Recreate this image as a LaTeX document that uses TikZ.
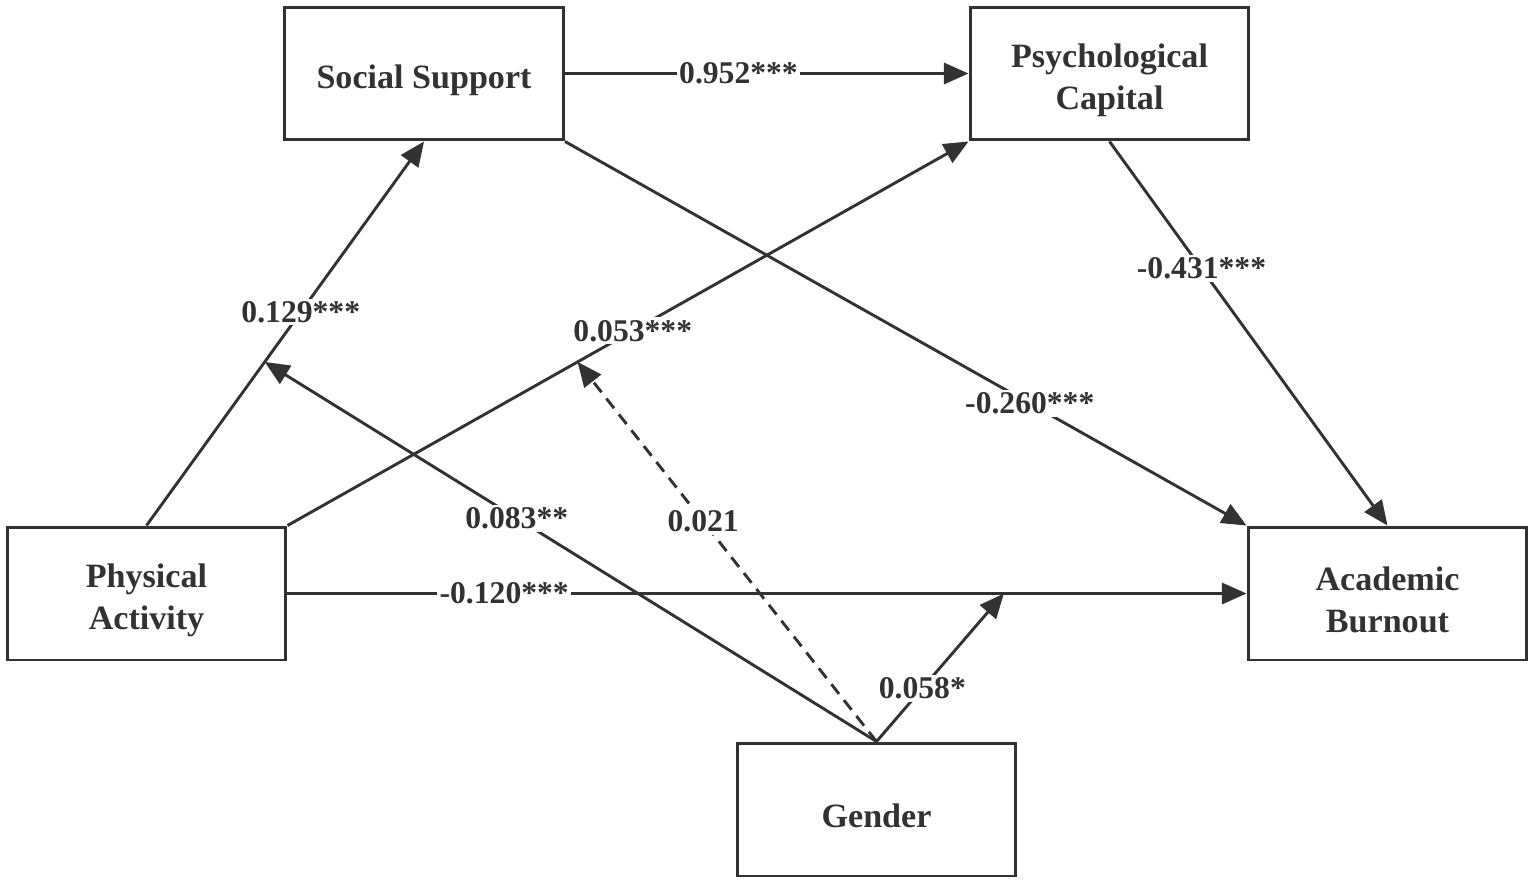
\documentclass[tikz,border=0pt]{standalone}
\usepackage{fontspec}
\setmainfont{Liberation Serif}
\usetikzlibrary{arrows.meta,calc}
\definecolor{ink}{RGB}{50,50,50}
\begin{document}
\begin{tikzpicture}[x=0.02cm,y=-0.02cm,
  box/.style={draw=ink,line width=1.7pt,minimum width=5.58cm,minimum height=2.66cm,
    align=center,text=ink,text height=21pt,font=\fontsize{19.4}{24}\selectfont\bfseries},
  boxtwo/.style={box,text height=45pt},
  conn/.style={draw=ink,line width=1.65pt,-{Triangle[length=14pt,width=12pt]}},
  lab/.style={fill=white,text=ink,inner sep=1.5pt,font=\fontsize{18}{22}\selectfont\bfseries}]
\useasboundingbox (0,0) rectangle (1535,886);
\node[box] (SS) at (424,73.5) {Social Support};
\node[boxtwo] (PC) at (1109.5,73.5) {Psychological\\Capital};
\node[boxtwo] (PA) at (146.5,593.5) {Physical\\Activity};
\node[boxtwo] (AB) at (1387.5,593.5) {Academic\\Burnout};
\node[box] (G) at (876.5,809.5) {Gender};
\coordinate (c1) at ($(PA.north)!0.426!(SS.south)$);
\coordinate (c2) at ($(PA.north east)!0.426!(PC.south west)$);
\coordinate (c3) at ($(PA.east)!0.747!(AB.west)$);
\draw[conn] (SS.east) -- node[lab,pos=0.43] {0.952***} (PC.west);
\draw[conn] (PA.north) -- node[lab,pos=0.556] {0.129***} (SS.south);
\draw[conn] (PA.north east) -- node[lab,pos=0.507] {0.053***} (PC.south west);
\draw[conn] (SS.south east) -- node[lab,pos=0.682] {-0.260***} (AB.north west);
\draw[conn] (PC.south) -- node[lab,pos=0.331] {-0.431***} (AB.north);
\draw[conn] (PA.east) -- node[lab,pos=0.226] {-0.120***} (AB.west);
\draw[conn] (G.north) -- node[lab,pos=0.588] {0.083**} (c1);
\draw[conn,dash pattern=on 7pt off 4.5pt] (G.north) -- node[lab,pos=0.58] {0.021} (c2);
\draw[conn] (G.north) -- node[lab,pos=0.36] {0.058*} (c3);
\end{tikzpicture}
\end{document}
